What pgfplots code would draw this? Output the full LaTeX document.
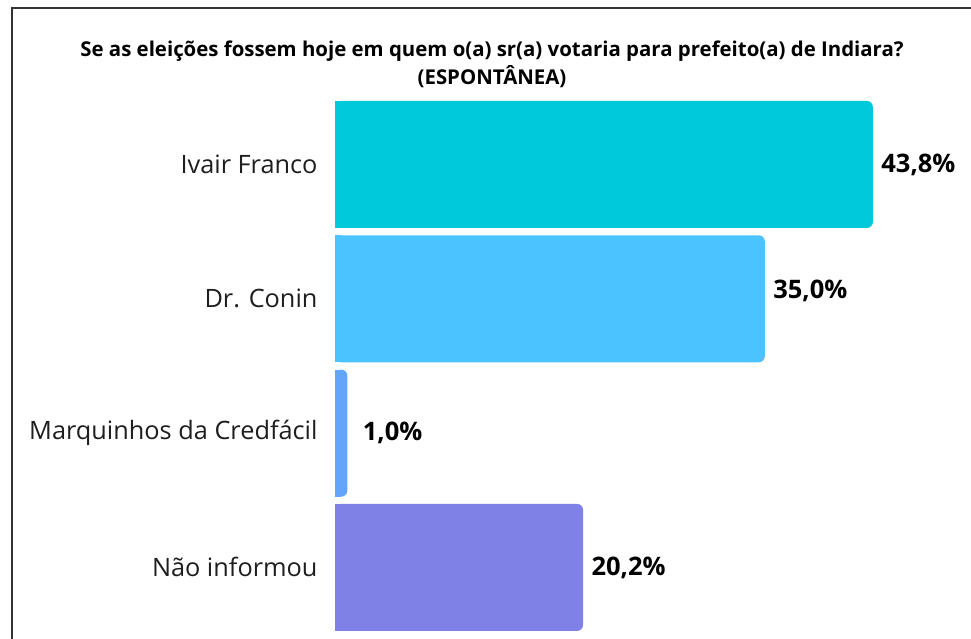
\documentclass[border=0pt]{standalone}
\usepackage{pgfplots}
\pgfplotsset{compat=1.18}
\usepackage{fontspec}
\setmainfont{Open Sans}
\definecolor{c1}{HTML}{00C9DB}
\definecolor{c2}{HTML}{4AC3FF}
\definecolor{c3}{HTML}{62A5FA}
\definecolor{c4}{HTML}{7F81E6}
\definecolor{frame}{HTML}{333333}
\definecolor{labtxt}{HTML}{1E1E1E}
\begin{document}
\begin{tikzpicture}[x=1pt,y=1pt]
\useasboundingbox (0,0) rectangle (971,639);
\fill[white] (0,0) rectangle (971,639);
\draw[line width=2.5pt, color=frame] (12,-5) -- (12,631) -- (985,631);
\node[align=center, font=\bfseries\fontsize{20.4}{28}\selectfont] at (492,575) {Se as eleições fossem hoje em quem o(a) sr(a) votaria para prefeito(a) de Indiara?\\(ESPONTÂNEA)};
\begin{axis}[
  at={(335pt,541.7pt)}, anchor=north west,
  scale only axis, width=614pt, height=537.3pt,
  xmin=0, xmax=50, ymin=-0.5, ymax=3.5, y dir=reverse,
  clip=false,
  axis line style={draw=none},
  xtick=\empty,
  ytick={0,1,2,3},
  yticklabels={Ivair Franco, Dr. Conin, Marquinhos da Credfácil, Não informou},
  major tick length=0pt,
  yticklabel style={font=\fontsize{25.3}{30}\selectfont, text=labtxt, xshift=-14pt},
  xbar, bar width=127pt, bar shift=0pt,
  /pgf/number format/.cd, fixed, fixed zerofill, precision=1, use comma, assume math mode=true,
  /pgfplots/.cd,
  vbar/.style={draw=none, fill=#1, rounded corners=6pt,
    nodes near coords={\pgfmathprintnumber{\pgfplotspointmeta}\%},
    every node near coord/.append style={font=\bfseries\fontsize{25.5}{30}\selectfont, text=black, xshift=5pt}},
  sq/.style={draw=none, fill=#1, sharp corners},
]
\addplot[vbar=c1] coordinates {(43.8,0)};
\addplot[vbar=c2, every node near coord/.append style={yshift=8pt}] coordinates {(35.0,1)};
\addplot[vbar=c3, every node near coord/.append style={xshift=7pt}] coordinates {(1.0,2)};
\addplot[vbar=c4] coordinates {(20.2,3)};
\addplot[sq=c1] coordinates {(0.5,0)};
\addplot[sq=c2] coordinates {(0.5,1)};
\addplot[sq=c3] coordinates {(0.5,2)};
\addplot[sq=c4] coordinates {(0.5,3)};
\end{axis}
\end{tikzpicture}
\end{document}
